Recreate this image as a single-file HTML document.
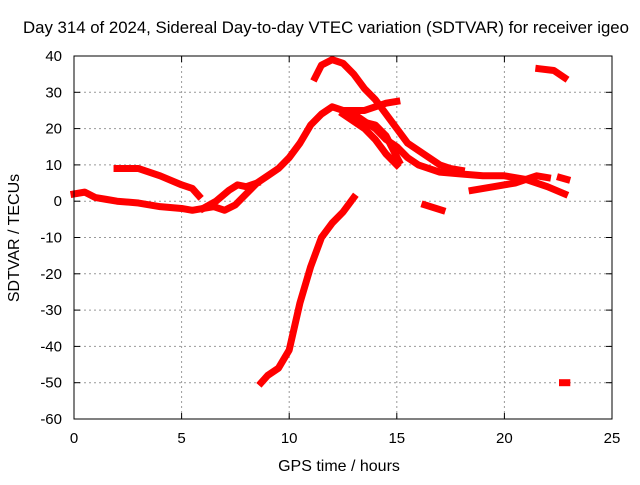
<!DOCTYPE html>
<html><head><meta charset="utf-8"><style>
body{margin:0;background:#fff}
text{font-family:"Liberation Sans",sans-serif;font-size:15px;fill:#000}
.big{font-size:16px}
.title{font-size:16.8px}
</style></head><body>
<svg id="chart" width="640" height="480">
<text class="title" x="326" y="33" text-anchor="middle">Day 314 of 2024, Sidereal Day-to-day VTEC variation (SDTVAR) for receiver igeo</text>
<g id="grid"></g><g id="marks"></g><g id="axes"></g>
<text class="big" x="339" y="471" text-anchor="middle">GPS time / hours</text>
<text class="big" transform="translate(19,238) rotate(-90)" text-anchor="middle">SDTVAR / TECUs</text>
</svg>
<script>
const xTicks=[0,5,10,15,20,25];
const yTicks=[-60,-50,-40,-30,-20,-10,0,10,20,30,40];
const seriesA=[[0,2],[0.5,2.5],[1,1],[1.5,0.5],[2,0],[3,-0.5],[4,-1.5],[5,-2],[5.5,-2.5],[6,-2],[6.5,-1.5],[7,-2.5],[7.5,-1],[8,2],[8.5,5],[9,7],[9.5,9],[10,12],[10.5,16],[11,21],[11.5,24],[12,26],[12.5,25],[13,24],[13.5,22],[14,20],[14.5,17],[15,15],[15.5,12],[16,10],[16.5,9],[17,8],[18,7.5],[19,7],[20,7],[21,6],[22,4],[22.8,2]];
const seriesA2=[[6,-2],[6.6,0],[7.2,3],[7.6,4.5],[8,4],[8.5,5]];
const seriesB=[[2,9],[3,9],[4,7],[5,4.5],[5.5,3.5],[5.8,1.5]];
const seriesC=[[8.7,-50],[9,-48],[9.5,-46],[10,-41],[10.5,-28],[11,-18],[11.5,-10],[12,-6],[12.5,-3],[13,1]];
const seriesD=[[11.2,34],[11.5,37.5],[12,39],[12.5,38],[13,35],[13.5,31],[14,28],[14.5,24],[15,20],[15.5,16],[16,14],[16.5,12],[17,10],[17.5,9],[18,8.5]];
const seriesE=[[12.5,24],[13.5,20],[14,17],[14.5,13],[15,10]];
const seriesE2=[[12.5,25],[13.5,25],[14.5,27],[15,27.5]];
const seriesE3=[[13.3,22],[14,21],[14.5,18],[15.1,11]];
const seriesF=[[18.5,3],[19.5,4],[20.5,5],[21.5,7],[22,6.5]];
const seriesG=[[16.3,-1],[17.1,-2.5]];
const seriesH=[[21.6,36.5],[22.3,36],[22.8,34]];
const seriesI=[[22.6,6.5],[22.9,6]];
const seriesJ=[[22.7,-50],[22.9,-50]];
const allSeries=[seriesA,seriesA2,seriesB,seriesC,seriesD,seriesE,seriesE2,seriesE3,seriesF,seriesG,seriesH,seriesI,seriesJ];
const L=74,R=612,T=56,B=419;
const X=h=>L+(h-0)/(25-0)*(R-L);
const Y=v=>B-(v+60)/(100)*(B-T);
const ns="http://www.w3.org/2000/svg";
const grid=document.getElementById('grid'),axes=document.getElementById('axes'),marks=document.getElementById('marks');
function mk(tag,attrs,parent){const e=document.createElementNS(ns,tag);for(const k in attrs)e.setAttribute(k,attrs[k]);parent.appendChild(e);return e;}
xTicks.forEach(t=>{const x=X(t);
 if(t>0&&t<25){const g=mk('line',{x1:x,x2:x,y1:T,y2:B,stroke:'#999','stroke-dasharray':'2,3'},grid);
 
 }
 const tl=mk('text',{x:x,y:B+24,'text-anchor':'middle'},axes);tl.textContent=t;
 
 
 mk('line',{x1:x,x2:x,y1:B,y2:B-6,stroke:'#000'},axes);mk('line',{x1:x,x2:x,y1:T,y2:T+6,stroke:'#000'},axes);});
yTicks.forEach(t=>{const y=Y(t);
 if(t>-60&&t<40){const g=mk('line',{x1:L,x2:R,y1:y,y2:y,stroke:'#999','stroke-dasharray':'2,3'},grid);
 
 }
 const tl=mk('text',{x:L-12,y:y+5,'text-anchor':'end'},axes);tl.textContent=t;
 
 
 mk('line',{x1:L,x2:L+6,y1:y,y2:y,stroke:'#000'},axes);mk('line',{x1:R,x2:R-6,y1:y,y2:y,stroke:'#000'},axes);});
const frame=mk('rect',{x:L,y:T,width:R-L,height:B-T,fill:'none',stroke:'#000'},axes);


allSeries.forEach(s=>{const p=mk('polyline',{points:s.map(d=>X(d[0])+','+Y(d[1])).join(' '),fill:'none',stroke:'#f00','stroke-width':7,'stroke-linejoin':'round','stroke-linecap':'square'},marks);
 
 });
</script>
</body></html>
